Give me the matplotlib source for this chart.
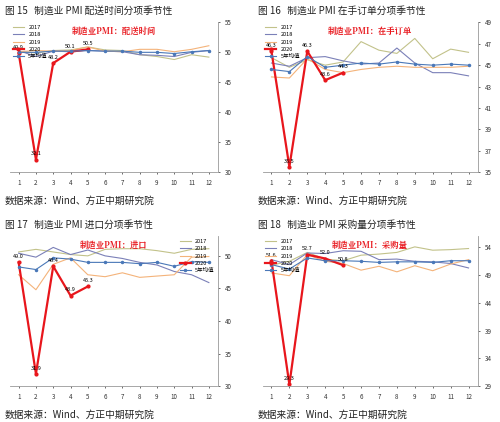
import numpy as np
import matplotlib.pyplot as plt

plt.rcParams['font.family'] = ['Noto Sans CJK SC', 'DejaVu Sans']

months = list(range(1, 13))
m2020 = [1, 2, 3, 4, 5]

# 配送时间
p1_2017 = [50.1, 49.9, 50.3, 50.4, 50.9, 50.4, 50.3, 49.6, 49.3, 48.8, 49.6, 49.2]
p1_2018 = [50.3, 49.3, 50.2, 50.1, 50.3, 50.2, 50.1, 49.6, 49.5, 49.3, 50.0, 50.3]
p1_2019 = [50.1, 50.3, 50.2, 50.3, 50.9, 50.2, 50.1, 50.5, 50.5, 50.1, 50.5, 51.1]
p1_avg = [50.0, 50.0, 50.2, 50.2, 50.3, 50.2, 50.2, 50.0, 50.0, 49.8, 50.1, 50.3]
p1_2020 = [49.9, 32.1, 48.2, 50.1, 50.5]

# 在手订单
p2_2017 = [45.7, 44.8, 45.5, 45.0, 45.3, 47.2, 46.4, 46.1, 47.5, 45.6, 46.5, 46.2]
p2_2018 = [45.2, 44.9, 45.7, 45.8, 45.4, 45.1, 45.2, 46.6, 45.2, 44.3, 44.3, 44.0]
p2_2019 = [43.9, 43.8, 45.6, 44.6, 44.3, 44.6, 44.8, 44.9, 44.8, 44.8, 44.8, 44.9]
p2_avg = [44.6, 44.4, 45.8, 44.8, 45.0, 45.2, 45.1, 45.3, 45.1, 45.0, 45.1, 45.0]
p2_2020 = [46.3, 35.5, 46.3, 43.6, 44.3]

# 进口
p3_2017 = [50.6, 51.0, 50.6, 50.2, 50.0, 51.0, 51.1, 51.1, 50.8, 50.4, 51.0, 51.1]
p3_2018 = [50.4, 49.8, 51.3, 50.2, 50.9, 50.0, 49.6, 49.0, 48.6, 47.6, 47.1, 45.9]
p3_2019 = [47.1, 44.8, 48.7, 49.7, 47.1, 46.8, 47.4, 46.7, 46.9, 47.1, 49.8, 49.9]
p3_avg = [48.3, 47.9, 49.7, 49.5, 49.0, 49.0, 49.0, 48.8, 49.0, 48.4, 49.1, 49.0]
p3_2020 = [49.0, 31.9, 48.4, 43.9, 45.3]

# 采购量
p4_2017 = [50.8, 51.5, 53.1, 51.9, 51.6, 52.6, 52.8, 53.1, 54.1, 53.5, 53.6, 53.8]
p4_2018 = [51.8, 50.9, 53.0, 52.9, 53.4, 53.3, 51.8, 51.9, 51.5, 51.4, 51.1, 50.3]
p4_2019 = [49.4, 48.9, 52.7, 51.5, 51.1, 49.9, 50.6, 49.6, 50.7, 49.8, 51.0, 51.8]
p4_avg = [50.9, 50.1, 52.1, 51.6, 51.6, 51.5, 51.3, 51.4, 51.4, 51.3, 51.6, 51.6]
p4_2020 = [51.6, 29.3, 52.7, 52.0, 50.8]

panels = [
    ('图 15   制造业 PMI 配送时间分项季节性', '制造业PMI：配送时间', p1_2017, p1_2018, p1_2019, p1_avg, p1_2020,
     (30, 55), np.arange(30, 56, 5), 'upper left'),
    ('图 16   制造业 PMI 在手订单分项季节性', '制造业PMI：在手订单', p2_2017, p2_2018, p2_2019, p2_avg, p2_2020,
     (35, 49), np.arange(35, 50, 2), 'upper left'),
    ('图 17   制造业 PMI 进口分项季节性', '制造业PMI：进口', p3_2017, p3_2018, p3_2019, p3_avg, p3_2020,
     (30, 53), np.arange(30, 51, 5), 'upper right'),
    ('图 18   制造业 PMI 采购量分项季节性', '制造业PMI：采购量', p4_2017, p4_2018, p4_2019, p4_avg, p4_2020,
     (29, 56), np.arange(29, 55, 5), 'upper left'),
]

pos = [(0.02, 0.592, 0.415, 0.355), (0.525, 0.592, 0.43, 0.355),
       (0.02, 0.085, 0.415, 0.355), (0.525, 0.085, 0.43, 0.355)]

fig = plt.figure(figsize=(5, 4.22), dpi=100)
for (title, inner, a, b, c, avg, cur, ylim, yt, loc), p in zip(panels, pos):
    ax = fig.add_axes(p)
    ax.plot(months, a, color='#c2c28a', lw=0.8, label='2017')
    ax.plot(months, b, color='#7b80b8', lw=0.8, label='2018')
    ax.plot(months, c, color='#f4b37a', lw=0.8, label='2019')
    ax.plot(m2020, cur, color='#e8161c', lw=1.6, marker='o', ms=2, label='2020')
    ax.plot(months, avg, color='#4a78b8', lw=0.8, marker='o', ms=1.5, label='5年均值')
    for x, y in zip(m2020, cur):
        ax.annotate(f'{y:.1f}', (x, y), xytext=(0, 3), textcoords='offset points',
                    ha='center', fontsize=4)
    ax.set_xlim(0.5, 12.5)
    ax.set_ylim(*ylim)
    ax.set_yticks(yt)
    ax.set_xticks(months)
    ax.yaxis.tick_right()
    for s in ['top', 'left']:
        ax.spines[s].set_visible(False)
    for s in ['right', 'bottom']:
        ax.spines[s].set_color('#999999')
        ax.spines[s].set_linewidth(0.6)
    ax.tick_params(labelsize=4.5, length=1.5, width=0.5, colors='#333333')
    ax.legend(loc=loc, fontsize=4, frameon=False, handlelength=2, labelspacing=0.4,
              borderaxespad=0.1)
    ax.text(0.5, 0.92, inner, transform=ax.transAxes, ha='center', color='#e8161c',
            fontsize=6, fontweight='bold', family=['Noto Serif CJK SC', 'Noto Sans CJK SC'])
    fig.text(p[0] - 0.01, p[1] + p[3] + 0.02, title, fontsize=7, color='#222222')
    fig.text(p[0] - 0.01, p[1] - 0.075, '数据来源：Wind、方正中期研究院', fontsize=7,
             style='italic', color='#222222')

fig.savefig('out.png', dpi=100)
